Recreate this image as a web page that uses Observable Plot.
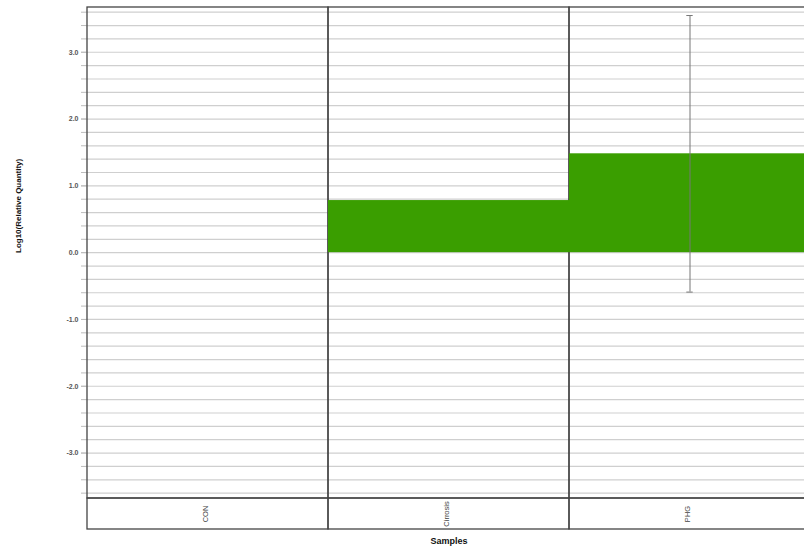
<!DOCTYPE html>
<html>
<head>
<meta charset="utf-8">
<script src="https://cdn.jsdelivr.net/npm/d3@7"></script>
<script src="https://cdn.jsdelivr.net/npm/@observablehq/plot@0.6"></script>
<style>
  html, body { margin: 0; padding: 0; background: white; }
  #wrap { width: 804px; height: 546px; overflow: hidden; }
  #wrap svg { max-width: none !important; }
</style>
</head>
<body>
<div id="wrap"></div>
<script>
const categories = ["CON", "Cirrosis", "PHG"];
const values = [0, 0.78, 1.48];
const errors = [null, null, 2.07];
const majorTicks = [-3, -2, -1, 0, 1, 2, 3];
const minorTicks = d3.range(-18, 19).map(i => i / 5);
const yDomain = [-3.68, 3.67];
const yTitle = "Log10(Relative Quantity)";
const xTitle = "Samples";

const data = categories.map((c, i) => ({c, v: values[i], e: errors[i]}));
const errData = data.filter(d => d.e != null);

const chart = Plot.plot({
  width: 811,
  height: 546,
  marginLeft: 86,
  marginRight: 0,
  marginTop: 7,
  marginBottom: 48,
  style: {fontFamily: "'Liberation Sans', Arial, sans-serif", background: "white"},
  x: {domain: categories, padding: 0, axis: null},
  y: {domain: yDomain, axis: null},
  marks: [
    Plot.gridY(minorTicks, {stroke: "#cfcfcf", strokeOpacity: 1, strokeWidth: 1.2}),
    Plot.axisY(minorTicks, {tickSize: 5, tickFormat: () => "", stroke: "#bdbdbd", label: null}),
    Plot.axisY(majorTicks, {tickSize: 5, tickPadding: 3, tickFormat: d => d.toFixed(1), fontSize: 7, fontWeight: "bold", fill: "#555", stroke: "#bdbdbd", label: null}),
    Plot.barY(data, {x: "c", y1: yDomain[0], y2: yDomain[1], fill: "none", stroke: "#444", strokeWidth: 1.3}),
    Plot.barY(data, {x: "c", y1: yDomain[0], y2: yDomain[0], insetBottom: -31, fill: "none", stroke: "#444", strokeWidth: 1.3}),
    Plot.barY(data, {x: "c", y: "v", fill: "#3a9e00"}),
    Plot.ruleX(errData, {x: "c", y1: d => d.v - d.e, y2: d => d.v + d.e, stroke: "#777", strokeWidth: 1}),
    Plot.tickY(errData, {x: "c", y: d => d.v + d.e, stroke: "#777", insetLeft: 117.3, insetRight: 117.3}),
    Plot.tickY(errData, {x: "c", y: d => d.v - d.e, stroke: "#777", insetLeft: 117.3, insetRight: 117.3}),
    Plot.text(data, {x: "c", text: "c", frameAnchor: "bottom", dy: 15.5, rotate: -90, fontSize: 7.5, fill: "#444"}),
    Plot.text([yTitle], {frameAnchor: "left", dx: -68, rotate: -90, fontSize: 8, fontWeight: "bold", fill: "#111"}),
    Plot.text([xTitle], {frameAnchor: "bottom", dy: 45, fontSize: 9, fontWeight: "bold", fill: "#111"})
  ]
});
document.getElementById("wrap").appendChild(chart);
</script>
</body>
</html>
